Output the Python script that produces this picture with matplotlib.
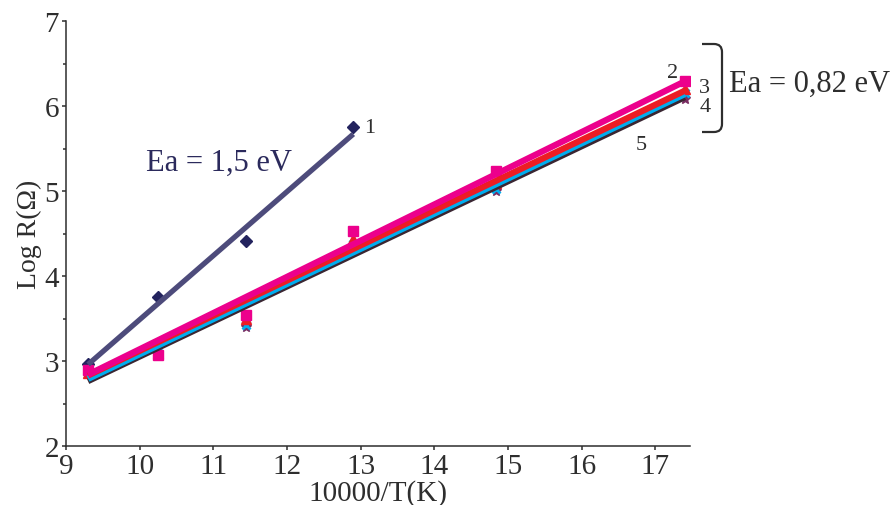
import numpy as np
import matplotlib
matplotlib.use("Agg")
import matplotlib.pyplot as plt
from matplotlib.path import Path
from matplotlib.patches import PathPatch
from matplotlib.ticker import MultipleLocator

plt.rcParams['font.family'] = ['Liberation Serif', 'DejaVu Serif']

# ---- data ----
x1 = [9.3, 10.25, 11.45, 12.9]
y1 = [2.96, 3.75, 4.41, 5.75]

x_all = [9.3, 10.25, 11.45, 12.9, 14.83, 17.4]
y2 = [2.90, 3.07, 3.54, 4.53, 5.24, 6.29]
y3 = [2.86, 3.09, 3.49, 4.44, 5.10, 6.20]
y4 = [2.88, 3.09, 3.42, 4.38, 5.02, 6.15]
y5 = [2.86, 3.08, 3.40, 4.36, 5.00, 6.08]

# trend-line values read at the line ends
trend_x = [9.3, 17.4]
trend1_x = [9.3, 12.9]
trend1 = [2.96, 5.67]
trend2 = [2.84, 6.29]
trend3 = [2.83, 6.18]
trend4 = [2.79, 6.14]
trend5 = [2.76, 6.10]

xticks = [9, 10, 11, 12, 13, 14, 15, 16, 17]
yticks = [2, 3, 4, 5, 6, 7]

ink = '#2e2e2e'
c1_line = '#4d4b7b'
c1_mark = '#23235e'
c2 = '#ec008c'
c3 = '#ed1c24'
c4 = '#00aeef'
c5 = '#3a2632'
c5_mark = '#7a2d62'

fig = plt.figure(figsize=(8.96, 5.06), dpi=100)
ax = fig.add_axes([66/896, 1-447/506, (690-66)/896, (447-22)/506])

# markers
ax.plot(x1, y1, linestyle='none', marker='D', ms=6, color=c1_mark, zorder=2)
ax.plot(x_all, y5, linestyle='none', marker='*', ms=8, color=c5_mark, zorder=2)
ax.plot(x_all, y4, linestyle='none', marker='x', ms=6, mew=2, color=c4, zorder=2)
ax.plot(x_all, y3, linestyle='none', marker='^', ms=7, color=c3, zorder=2)
ax.plot(x_all, y2, linestyle='none', marker='s', ms=6.5, color=c2, zorder=2)

# trend lines
ax.plot(trend1_x, trend1, color=c1_line, lw=3.8, solid_capstyle='butt', zorder=3)
ax.plot(trend_x, trend5, color=c5, lw=4.0, solid_capstyle='butt', zorder=3)
ax.plot(trend_x, trend4, color=c4, lw=4.5, solid_capstyle='butt', zorder=3.1)
ax.plot(trend_x, trend3, color=c3, lw=4.5, solid_capstyle='butt', zorder=3.2)
ax.plot(trend_x, trend2, color=c2, lw=4.5, solid_capstyle='butt', zorder=3.3)

ax.set_xlim(9, 17.47)
ax.set_ylim(2, 7)
ax.set_xticks(xticks)
ax.set_yticks(yticks)
ax.yaxis.set_minor_locator(MultipleLocator(0.5))

for s in ['top', 'right']:
    ax.spines[s].set_visible(False)
for s in ['left', 'bottom']:
    ax.spines[s].set_color(ink)
    ax.spines[s].set_linewidth(1.1)

ax.tick_params(axis='both', which='major', direction='out', length=3, width=1.1,
               color=ink, labelcolor=ink, labelsize=21)
ax.tick_params(axis='y', which='major', pad=2)
ax.tick_params(axis='x', which='major', pad=2)
ax.tick_params(axis='y', which='minor', direction='out', length=2.5, width=1.1, color=ink)

ax.set_xlabel('10000/T(K)', fontsize=21, color=ink, labelpad=0)
ax.set_ylabel('Log R(Ω)', fontsize=20, color=ink, labelpad=2)

# annotations
ax.text(13.05, 5.75, '1', fontsize=16, color=ink, ha='left', va='center')
ax.text(17.23, 6.39, '2', fontsize=16, color=ink, ha='center', va='center', clip_on=False)
ax.text(17.67, 6.22, '3', fontsize=16, color=ink, ha='center', va='center', clip_on=False)
ax.text(17.67, 5.99, '4', fontsize=16, color=ink, ha='center', va='center', clip_on=False)
ax.text(16.81, 5.55, '5', fontsize=16, color=ink, ha='center', va='center')
ax.text(11.08, 5.34, 'Ea = 1,5 eV', fontsize=22, color='#2b2a5c', ha='center', va='center')

fig.text(729/896, 1-84/506, 'Ea = 0,82 eV', fontsize=22, color=ink, ha='left', va='center')

# bracket
pts = [(702, 45), (714, 45), (722, 45), (722, 53), (722, 125), (722, 133), (714, 133), (702, 133)]
codes = [Path.MOVETO, Path.LINETO, Path.CURVE3, Path.CURVE3, Path.LINETO,
         Path.CURVE3, Path.CURVE3, Path.LINETO]
verts = [(px/896, 1-py/506) for px, py in pts]
fig.patches.append(PathPatch(Path(verts, codes), transform=fig.transFigure,
                             fill=False, lw=1.6, edgecolor=ink))

fig.savefig('out.png', dpi=100)
